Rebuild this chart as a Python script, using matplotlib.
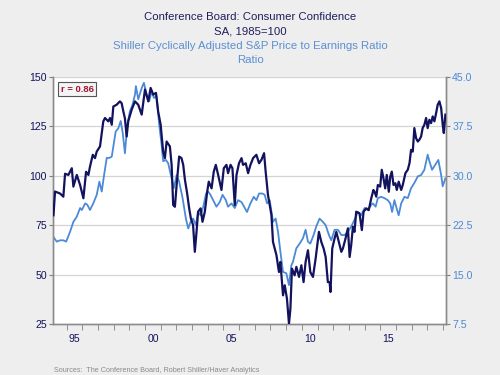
import matplotlib
matplotlib.use("Agg")
import matplotlib.pyplot as plt
from matplotlib.ticker import FixedLocator, NullFormatter

plt.rcParams['font.family'] = ['Liberation Sans', 'DejaVu Sans']

# Consumer Confidence (left axis), decimal year / index value
cc_year = [1994.15, 1994.25, 1994.57, 1994.78, 1994.89, 1995.10, 1995.32, 1995.42, 1995.64, 1995.85,
           1996.06, 1996.23, 1996.38, 1996.48, 1996.66, 1996.80, 1996.91, 1997.12, 1997.33, 1997.44,
           1997.65, 1997.76, 1997.87, 1997.97, 1998.18, 1998.39, 1998.50, 1998.61, 1998.71, 1998.82,
           1998.92, 1999.14, 1999.35, 1999.56, 1999.78, 1999.99, 2000.20, 2000.35, 2000.52, 2000.69,
           2000.83, 2000.99, 2001.15, 2001.26, 2001.37, 2001.58, 2001.69, 2001.79, 2001.90, 2002.01,
           2002.17, 2002.32, 2002.43, 2002.54, 2002.68, 2002.81, 2002.92, 2003.06, 2003.17, 2003.28,
           2003.38, 2003.54, 2003.66, 2003.81, 2003.96, 2004.06, 2004.24, 2004.38, 2004.51, 2004.66,
           2004.87, 2005.02, 2005.19, 2005.29, 2005.45, 2005.57, 2005.72, 2005.83, 2005.99, 2006.15,
           2006.25, 2006.42, 2006.57, 2006.72, 2006.89, 2007.10, 2007.27, 2007.42, 2007.59, 2007.69,
           2007.84, 2008.06, 2008.16, 2008.38, 2008.54, 2008.63, 2008.80, 2008.91, 2009.05, 2009.18,
           2009.27, 2009.37, 2009.54, 2009.65, 2009.82, 2009.97, 2010.11, 2010.24, 2010.39, 2010.54,
           2010.71, 2010.88, 2011.09, 2011.24, 2011.39, 2011.52, 2011.66, 2011.77, 2011.83, 2011.94,
           2012.09, 2012.20, 2012.36, 2012.52, 2012.62, 2012.79, 2012.94, 2013.05, 2013.15, 2013.26,
           2013.36, 2013.47, 2013.68, 2013.83, 2013.94, 2014.11, 2014.27, 2014.43, 2014.57, 2014.64,
           2014.75, 2014.85, 2015.00, 2015.10, 2015.21, 2015.32, 2015.42, 2015.55, 2015.64, 2015.74,
           2015.85, 2015.97, 2016.06, 2016.18, 2016.34, 2016.44, 2016.61, 2016.76, 2016.87, 2016.97,
           2017.08, 2017.18, 2017.29, 2017.40, 2017.50, 2017.61, 2017.71, 2017.82, 2017.93, 2018.03,
           2018.14, 2018.25, 2018.35, 2018.46, 2018.57, 2018.67, 2018.78, 2018.89, 2018.99, 2019.06,
           2019.16]
cc_val = [80.0, 92.0, 91.0, 89.4, 101.0, 100.4, 103.8, 94.5, 100.4, 95.3,
          88.6, 102.0, 100.4, 104.6, 110.6, 108.9, 112.2, 114.8, 127.5, 129.2,
          127.5, 129.2, 125.8, 135.0, 135.9, 137.6, 136.7, 132.5, 129.0, 119.8,
          127.5, 133.4, 137.6, 135.9, 130.9, 143.6, 137.6, 144.4, 141.0, 141.9,
          132.5, 125.8, 112.2, 108.9, 117.3, 114.8, 105.5, 85.2, 84.3, 95.3,
          109.7, 108.9, 105.5, 97.9, 91.1, 83.5, 78.4, 75.0, 61.5, 71.6,
          81.8, 83.5, 76.7, 81.8, 91.9, 97.0, 93.6, 102.1, 105.5, 100.4,
          92.8, 103.8, 105.5, 101.3, 105.5, 103.8, 85.2, 100.4, 106.3, 108.9,
          105.5, 106.3, 101.3, 105.5, 108.9, 110.6, 106.3, 108.0, 111.4, 102.1,
          90.2, 80.1, 66.5, 59.8, 51.3, 56.4, 39.5, 44.6, 37.8, 25.1,
          32.7, 53.0, 49.6, 53.9, 48.8, 54.7, 46.2, 56.4, 62.3, 51.3,
          48.8, 58.1, 71.6, 66.6, 63.2, 58.9, 46.2, 46.2, 41.2, 63.2,
          68.3, 71.6, 66.6, 61.5, 63.2, 68.3, 73.4, 58.9, 64.9, 74.2,
          71.6, 81.8, 81.0, 72.5, 81.8, 83.5, 82.6, 88.6, 92.8, 91.9,
          89.4, 95.3, 94.5, 103.0, 98.7, 93.6, 100.4, 91.9, 99.5, 102.1,
          95.3, 96.2, 92.8, 97.0, 92.8, 95.3, 101.3, 103.0, 106.3, 113.1,
          112.2, 124.1, 119.0, 117.3, 118.2, 119.8, 124.1, 125.8, 129.2, 124.1,
          128.3, 126.6, 130.0, 127.5, 131.7, 135.9, 137.6, 134.2, 125.8, 121.6,
          130.9]

# Shiller CAPE ratio (right axis)
cape_year = [1994.15, 1994.36, 1994.57, 1994.78, 1994.96, 1995.21, 1995.42, 1995.64, 1995.85, 1995.96,
             1996.17, 1996.31, 1996.48, 1996.69, 1996.91, 1997.08, 1997.23, 1997.38, 1997.55, 1997.71,
             1997.87, 1997.97, 1998.12, 1998.29, 1998.44, 1998.57, 1998.71, 1998.86, 1999.03, 1999.20,
             1999.35, 1999.41, 1999.56, 1999.78, 1999.92, 2000.10, 2000.26, 2000.41, 2000.56, 2000.73,
             2000.90, 2001.05, 2001.15, 2001.32, 2001.47, 2001.69, 2001.83, 2002.01, 2002.17, 2002.39,
             2002.60, 2002.75, 2002.90, 2003.06, 2003.24, 2003.38, 2003.54, 2003.71, 2003.89, 2004.02,
             2004.17, 2004.34, 2004.55, 2004.76, 2004.94, 2005.15, 2005.29, 2005.51, 2005.72, 2005.93,
             2006.15, 2006.36, 2006.50, 2006.72, 2006.93, 2007.10, 2007.27, 2007.48, 2007.63, 2007.78,
             2007.95, 2008.16, 2008.33, 2008.48, 2008.63, 2008.80, 2009.01, 2009.18, 2009.33, 2009.43,
             2009.65, 2009.86, 2010.07, 2010.24, 2010.39, 2010.54, 2010.75, 2010.92, 2011.13, 2011.34,
             2011.52, 2011.73, 2011.88, 2012.09, 2012.30, 2012.52, 2012.73, 2012.94, 2013.15, 2013.36,
             2013.57, 2013.79, 2014.00, 2014.21, 2014.43, 2014.53, 2014.71, 2014.85, 2015.06, 2015.27,
             2015.48, 2015.64, 2015.76, 2015.91, 2016.02, 2016.18, 2016.34, 2016.55, 2016.76, 2016.97,
             2017.18, 2017.40, 2017.61, 2017.82, 2018.03, 2018.14, 2018.31, 2018.52, 2018.71, 2018.89,
             2018.99, 2019.16]
cape_val = [20.7, 20.0, 20.2, 20.2, 20.0, 21.5, 23.0, 23.8, 25.1, 24.8,
            25.8, 25.6, 24.8, 25.8, 27.1, 29.1, 27.6, 30.1, 32.7, 32.7,
            32.9, 34.4, 36.7, 37.2, 38.3, 36.5, 33.4, 37.7, 39.8, 40.8,
            42.3, 43.6, 41.6, 43.3, 44.1, 42.3, 41.3, 42.8, 41.8, 42.1,
            37.7, 34.7, 32.2, 32.4, 31.9, 29.6, 28.1, 30.1, 29.1, 26.6,
            23.5, 22.0, 23.0, 23.5, 22.5, 24.5, 24.0, 25.3, 27.3, 27.6,
            27.1, 26.3, 25.3, 26.0, 27.1, 26.3, 25.3, 25.8, 25.1, 26.3,
            26.0, 25.1, 24.5, 25.8, 26.8, 26.3, 27.3, 27.3, 27.1, 25.8,
            26.3, 23.0, 23.5, 21.5, 18.5, 15.4, 15.2, 13.4, 16.4, 16.9,
            19.0, 19.7, 20.5, 21.8, 20.0, 19.7, 21.0, 22.3, 23.5, 23.0,
            22.5, 21.0, 20.2, 21.8, 21.8, 21.0, 21.0, 21.5, 22.3, 23.3,
            24.5, 24.0, 25.1, 24.8, 25.6, 25.8, 25.3, 26.6, 26.8, 26.6,
            26.3, 25.8, 24.5, 26.3, 25.3, 24.0, 25.8, 26.8, 26.6, 28.1,
            28.9, 29.9, 30.1, 30.9, 33.2, 32.2, 30.9, 31.7, 32.4, 30.1,
            28.4, 29.6]

left_ticks = [25, 50, 75, 100, 125, 150]
right_ticks = [7.5, 15.0, 22.5, 30.0, 37.5, 45.0]
year_labels = ['95', '00', '05', '10', '15']
label_years = [1995, 2000, 2005, 2010, 2015]

navy = '#12125e'
light = '#4a8ad6'
bg = '#eeeeee'

fig = plt.figure(figsize=(5, 3.75), dpi=100, facecolor=bg)
ax2 = fig.add_axes([0.106, 0.136, 0.786, 0.659])
ax = ax2.twinx()
# keep the confidence line on top
ax.set_zorder(ax2.get_zorder() + 1)
ax.patch.set_visible(False)
ax2.set_facecolor('white')

ax.plot(cc_year, cc_val, color=navy, lw=1.6, zorder=3)
ax2.plot(cape_year, cape_val, color=light, lw=1.3, zorder=2)

ax.set_xlim(1994.12, 2019.2)
ax.set_ylim(25, 150)
ax2.set_ylim(7.5, 45)

# twin axis puts its y-axis on the right -> swap sides
ax.yaxis.tick_left()
ax.yaxis.set_label_position('left')
ax2.yaxis.tick_right()

ax.set_yticks(left_ticks)
ax.set_yticklabels([str(t) for t in left_ticks])
ax2.set_yticks(right_ticks)
ax2.set_yticklabels(['%.1f' % t for t in right_ticks])

for t in right_ticks[1:]:
    ax2.axhline(t, color='#d4d4d4', lw=0.9, zorder=1)

ax.tick_params(axis='y', colors='#808080', labelcolor=navy, labelsize=7.6, length=3, width=0.8, pad=1.5)
ax2.tick_params(axis='y', colors='#808080', labelcolor=light, labelsize=7.6, length=3, width=0.8, pad=1.5)

years = list(range(1995, 2020))
ax2.xaxis.set_major_locator(FixedLocator(years))
ax2.xaxis.set_major_formatter(NullFormatter())
ax2.xaxis.set_minor_locator(FixedLocator([y + 0.5 for y in label_years]))
ax2.set_xticklabels(year_labels, minor=True)
ax2.tick_params(axis='x', which='major', colors='#909090', length=4, width=0.7)
ax2.tick_params(axis='x', which='minor', length=0, labelsize=7.6, labelcolor=navy, pad=7)
ax.tick_params(axis='x', which='both', bottom=False, labelbottom=False)

for a in (ax, ax2):
    a.spines['top'].set_visible(False)
    for s in ('left', 'right', 'bottom'):
        a.spines[s].set_color('#8c8c8c')
        a.spines[s].set_linewidth(1.0)

ax.text(0.02, 0.968, 'r = 0.86', transform=ax.transAxes, ha='left', va='top',
        fontsize=6.8, fontweight='bold', color='#a31531',
        bbox=dict(boxstyle='square,pad=0.25', facecolor='#f4f4f4', edgecolor='#555555', lw=0.8))

fig.text(0.5, 0.955, 'Conference Board: Consumer Confidence', ha='center', va='center', fontsize=8.2, color='#1f1f5c')
fig.text(0.5, 0.917, 'SA, 1985=100', ha='center', va='center', fontsize=8.2, color='#1f1f5c')
fig.text(0.5, 0.877, 'Shiller Cyclically Adjusted S&P Price to Earnings Ratio', ha='center', va='center', fontsize=8.2, color='#5a8fd2')
fig.text(0.5, 0.841, 'Ratio', ha='center', va='center', fontsize=8.2, color='#5a8fd2')
fig.text(0.108, 0.004, 'Sources:  The Conference Board, Robert Shiller/Haver Analytics', ha='left', va='bottom', fontsize=5.2, color='#8a8a8a')

fig.savefig('out.png', dpi=100, facecolor=bg)
